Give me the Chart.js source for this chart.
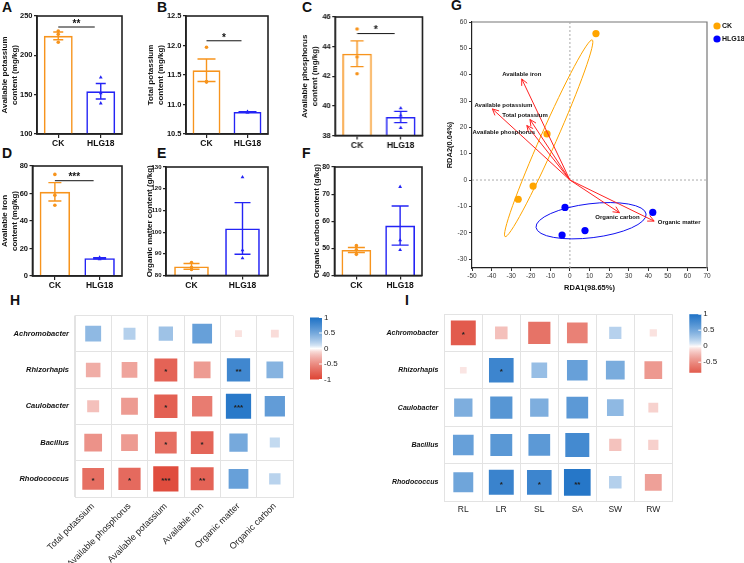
<!DOCTYPE html>
<html>
<head>
<meta charset="utf-8">
<script src="https://cdn.jsdelivr.net/npm/chart.js@4"></script>
<style>
  html, body { margin: 0; padding: 0; background: #fff; }
  body { width: 744px; height: 563px; position: relative; overflow: hidden; font-family: "Liberation Sans", Arial, sans-serif; }
  .box { position: absolute; }
  .tag { position: absolute; font-weight: bold; font-size: 14px; line-height: 14px; color: #111; }
</style>
</head>
<body>
<div class="tag" style="left:2px;top:0px">A</div>
<div class="tag" style="left:157px;top:0px">B</div>
<div class="tag" style="left:302px;top:0px">C</div>
<div class="tag" style="left:2px;top:146px">D</div>
<div class="tag" style="left:157px;top:146px">E</div>
<div class="tag" style="left:302px;top:146px">F</div>
<div class="tag" style="left:451px;top:-2px">G</div>
<div class="tag" style="left:10px;top:293px">H</div>
<div class="tag" style="left:405px;top:293px">I</div>
<script>
// ---- data ----
const groups = ["CK", "HLG18"];

// A: available potassium (mg/kg)
const availKMean = [224.8, 154.3];
const availKSem = [4.9, 9.8];
const availKCK = [231, 226.8, 216.7];
const availKHLG = [172, 152, 139];

// B: total potassium (mg/kg)
const totalKMean = [11.58, 10.873];
const totalKSem = [0.19, 0.004];
const totalKCK = [11.97, 11.39, 11.38];
const totalKHLG = [10.868, 10.872, 10.879];

// C: available phosphorus (mg/kg)
const availPMean = [43.52, 39.25];
const availPSem = [0.87, 0.38];
const availPCK = [45.19, 43.3, 42.17];
const availPHLG = [39.84, 39.36, 38.52];

// D: available iron (mg/kg)
const availFeMean = [61.2, 12.9];
const availFeSem = [6.7, 0.35];
const availFeCK = [73.9, 58.8, 51.5];
const availFeHLG = [13.5, 12.8, 12.3];

// E: organic matter (g/kg)
const omMean = [84.2, 101.7];
const omSem = [1.3, 11.9];
const omCK = [86.0, 83.8, 82.8];
const omHLG = [125.3, 91.7, 88];

// F: organic carbon (g/kg)
const ocMean = [49.4, 58.4];
const ocSem = [0.9, 7.2];
const ocCK = [51, 49.5, 47.8];
const ocHLG = [72.7, 53, 49.4];

// G: RDA
const ckRda1 = [13.3, -11.7, -18.8, -26.4];
const ckRda2 = [55.6, 17.5, -2.3, -7.3];
const hlgRda1 = [-2.5, -4.0, 7.7, 42.3];
const hlgRda2 = [-10.4, -20.9, -19.2, -12.3];
const envNames = ["Available iron", "Available potassium", "Total potassium", "Available phosphorus", "Organic carbon", "Organic matter"];
const envRda1 = [-24.6, -39.6, -20.4, -22, 25.3, 43];
const envRda2 = [38.4, 27, 23, 20.7, -12.4, -15.6];

// H / I: correlations
const taxa = ["Achromobacter", "Rhizorhapis", "Caulobacter", "Bacillus", "Rhodococcus"];
const soilVars = ["Total potassium", "Available phosphorus", "Available potassium", "Available iron", "Organic matter", "Organic carbon"];
const soilCorr = [
  [0.37, 0.21, 0.30, 0.57, -0.07, -0.09],
  [-0.31, -0.36, -0.77, -0.41, 0.79, 0.41],
  [-0.21, -0.41, -0.79, -0.60, 0.93, 0.60],
  [-0.46, -0.41, -0.69, -0.75, 0.49, 0.15],
  [-0.69, -0.72, -0.93, -0.77, 0.57, 0.19]
];
const soilSig = [
  ["", "", "", "", "", ""],
  ["", "", "*", "", "**", ""],
  ["", "", "*", "", "***", ""],
  ["", "", "*", "*", "", ""],
  ["*", "*", "***", "**", "", ""]
];
const traits = ["RL", "LR", "SL", "SA", "SW", "RW"];
const traitCorr = [
  [-0.83, -0.21, -0.66, -0.57, 0.20, -0.07],
  [-0.06, 0.81, 0.33, 0.57, 0.47, -0.42],
  [0.45, 0.66, 0.45, 0.63, 0.37, -0.13],
  [0.57, 0.64, 0.63, 0.77, -0.20, -0.14],
  [0.53, 0.83, 0.81, 0.95, 0.21, -0.38]
];
const traitSig = [
  ["*", "", "", "", "", ""],
  ["", "*", "", "", "", ""],
  ["", "", "", "", "", ""],
  ["", "", "", "", "", ""],
  ["", "*", "*", "**", "", ""]
];

// ---- styles ----
const ORANGE = "#F7941D";
const BLUE = "#2424F5";
const FONT = '"Liberation Sans", Arial, sans-serif';

Chart.defaults.font.family = FONT;
Chart.defaults.color = "#222";
Chart.defaults.animation = false;
Chart.defaults.events = [];
Chart.defaults.plugins.legend.display = false;
Chart.defaults.plugins.tooltip.enabled = false;

function addCanvas(left, top, width, height) {
  const div = document.createElement("div");
  div.className = "box";
  div.style.left = left + "px";
  div.style.top = top + "px";
  div.style.width = width + "px";
  div.style.height = height + "px";
  const cv = document.createElement("canvas");
  div.appendChild(cv);
  document.body.appendChild(div);
  return cv;
}

// ---- bar panels A-F ----
const barPanels = [
  { cl: 0, pl: 37, pt: 16, pr: 122, pb: 134, min: 100, max: 250, step: 50, dec: 0, cap: 10, tickFont: 7.5,
    title: ["Available potassium", "content (mg/kg)"], mean: availKMean, sem: availKSem, ck: availKCK, hlg: availKHLG, sig: "**", sigY: 236 },
  { cl: 146, pl: 186, pt: 16, pr: 268, pb: 134, min: 10.5, max: 12.5, step: 0.5, dec: 1, cap: 18, tickFont: 7.5,
    title: ["Total potassium", "content (mg/kg)"], mean: totalKMean, sem: totalKSem, ck: totalKCK, hlg: totalKHLG, sig: "*", sigY: 12.08 },
  { cl: 300, pl: 335, pt: 16.5, pr: 421.5, pb: 135, min: 38, max: 46, step: 2, dec: 0, cap: 13, tickFont: 7.5,
    title: ["Available phosphorus", "content (mg/kg)"], mean: availPMean, sem: availPSem, ck: availPCK, hlg: availPHLG, sig: "*", sigY: 44.88 },
  { cl: 0, pl: 32.5, pt: 166, pr: 122, pb: 276, min: 0, max: 80, step: 20, dec: 0, cap: 13, tickFont: 7.5,
    title: ["Available iron", "content (mg/kg)"], mean: availFeMean, sem: availFeSem, ck: availFeCK, hlg: availFeHLG, sig: "***", sigY: 69.3 },
  { cl: 145, pl: 166, pt: 166.5, pr: 268, pb: 275, min: 80, max: 130, step: 10, dec: 0, cap: 16, tickFont: 6,
    title: "Organic matter content (g/kg)", mean: omMean, sem: omSem, ck: omCK, hlg: omHLG, sig: "", sigY: 0 },
  { cl: 312, pl: 334.5, pt: 166.5, pr: 422, pb: 275, min: 40, max: 80, step: 10, dec: 0, cap: 17, tickFont: 7,
    title: "Organic carbon content (g/kg)", mean: ocMean, sem: ocSem, ck: ocCK, hlg: ocHLG, sig: "", sigY: 0 }
];

barPanels.forEach(p => {
  const top = p.pt - 8;
  const cv = addCanvas(p.cl, top, p.pr + 8 - p.cl, p.pb + 22 - top);
  const pts = (arr, g) => arr.map(v => ({ x: g, y: v }));
  new Chart(cv, {
    type: "bar",
    data: {
      labels: groups,
      datasets: [
        { data: p.mean, backgroundColor: "rgba(255,255,255,0)", borderColor: [ORANGE, BLUE], borderWidth: 1.6,
          barPercentage: 0.68, categoryPercentage: 1, borderSkipped: "bottom" },
        { type: "scatter", data: pts(p.ck, "CK"), pointStyle: "circle", pointRadius: 1.8, backgroundColor: ORANGE, borderWidth: 0 },
        { type: "scatter", data: pts(p.hlg, "HLG18"), pointStyle: "triangle", pointRadius: 2.2, backgroundColor: BLUE, borderWidth: 0 }
      ]
    },
    options: {
      responsive: true,
      maintainAspectRatio: false,
      layout: { autoPadding: false, padding: { top: 8, right: 8, left: 0, bottom: 0 } },
      scales: {
        x: {
          offset: true,
          grid: { drawOnChartArea: false, offset: false, tickLength: 4, color: "#222", lineWidth: 1.2 },
          border: { color: "#222", width: 1.6 },
          ticks: { color: "#111", font: { size: 8.5, weight: "bold" }, padding: 1 },
          afterFit: s => { s.height = 22; }
        },
        y: {
          min: p.min, max: p.max,
          grid: { drawOnChartArea: false, tickLength: 3, color: "#222", lineWidth: 1.2 },
          border: { color: "#222", width: 1.6 },
          ticks: { stepSize: p.step, color: "#111", font: { size: p.tickFont, weight: "bold" }, padding: 1.5,
                   callback: v => v.toFixed(p.dec) },
          title: { display: true, text: p.title, color: "#111", font: { size: 8, weight: "bold" }, padding: { top: 0, bottom: 0 } },
          afterFit: s => { s.width = p.pl - p.cl; }
        }
      }
    },
    plugins: [{
      id: "errorBars",
      afterDatasetsDraw(chart) {
        const { ctx, chartArea: a } = chart;
        const x = chart.scales.x, y = chart.scales.y;
        ctx.save();
        p.mean.forEach((m, i) => {
          const cx = x.getPixelForValue(i);
          const y1 = y.getPixelForValue(m + p.sem[i]);
          const y0 = y.getPixelForValue(m - p.sem[i]);
          ctx.strokeStyle = i === 0 ? ORANGE : BLUE;
          ctx.lineWidth = 1.4;
          ctx.beginPath();
          ctx.moveTo(cx, y0); ctx.lineTo(cx, y1);
          ctx.moveTo(cx - p.cap / 2, y1); ctx.lineTo(cx + p.cap / 2, y1);
          ctx.moveTo(cx - p.cap / 2, y0); ctx.lineTo(cx + p.cap / 2, y0);
          ctx.stroke();
        });
        ctx.strokeStyle = "#222";
        ctx.lineWidth = 1.6;
        ctx.strokeRect(a.left, a.top, a.right - a.left, a.bottom - a.top);
        if (p.sig) {
          const sy = y.getPixelForValue(p.sigY);
          const x0 = x.getPixelForValue(0), x1 = x.getPixelForValue(1) - 6;
          ctx.strokeStyle = "#111";
          ctx.lineWidth = 1;
          ctx.beginPath();
          ctx.moveTo(x0, sy); ctx.lineTo(x1, sy);
          ctx.stroke();
          ctx.fillStyle = "#111";
          ctx.font = "bold 10px " + FONT;
          ctx.textAlign = "center";
          ctx.textBaseline = "bottom";
          ctx.fillText(p.sig, (x0 + x1) / 2, sy + 2);
        }
        ctx.restore();
      }
    }]
  });
});

// ---- G: RDA biplot ----
const groupEllipses = [
  { cx: -10.85, cy: 15.85, ex: 11.4, ey: 53.2, minorPx: 8, color: "#FFA500" },
  { cx: 10.8, cy: -15.45, ex: 38.9, ey: -12.9, minorPx: 17, color: "#1010F0" }
];
const envLabelOffset = [[0, -5], [11, -4], [-5, -4], [-23, 7], [-2, 5], [25, 1]];

const cvG = addCanvas(445, 12, 299, 280);
new Chart(cvG, {
  type: "scatter",
  data: {
    datasets: [
      { data: ckRda1.map((v, i) => ({ x: v, y: ckRda2[i] })), backgroundColor: "#FFA500", pointRadius: 3.6, borderWidth: 0 },
      { data: hlgRda1.map((v, i) => ({ x: v, y: hlgRda2[i] })), backgroundColor: "#0000FF", pointRadius: 3.6, borderWidth: 0 }
    ]
  },
  options: {
    responsive: true,
    maintainAspectRatio: false,
    layout: { autoPadding: false, padding: { top: 10, right: 37, left: 0, bottom: 0 } },
    scales: {
      x: {
        min: -50, max: 70,
        grid: { drawOnChartArea: false, tickLength: 3, color: "#333" },
        border: { color: "#222", width: 1.2 },
        ticks: { stepSize: 10, includeBounds: false, color: "#333", font: { size: 6.5 }, padding: 1, maxRotation: 0 },
        title: { display: true, text: "RDA1(98.65%)", color: "#111", font: { size: 7.5, weight: "bold" }, padding: { top: 0, bottom: 0 } },
        afterFit: s => { s.height = 24; }
      },
      y: {
        min: -33.4, max: 60,
        grid: { drawOnChartArea: false, tickLength: 3, color: "#333" },
        border: { color: "#222", width: 1.2 },
        ticks: { stepSize: 10, includeBounds: false, color: "#333", font: { size: 6.5 }, padding: 2 },
        title: { display: true, text: "RDA2(0.04%)", color: "#111", font: { size: 7.5, weight: "bold" }, padding: { top: 0, bottom: 0 } },
        afterFit: s => { s.width = 27; }
      }
    }
  },
  plugins: [{
    id: "rdaExtras",
    beforeDatasetsDraw(chart) {
      const { ctx, chartArea: a } = chart;
      const x = chart.scales.x, y = chart.scales.y;
      ctx.save();
      ctx.strokeStyle = "#777";
      ctx.lineWidth = 1.2;
      ctx.beginPath();
      ctx.moveTo(a.left, a.top); ctx.lineTo(a.right, a.top); ctx.lineTo(a.right, a.bottom);
      ctx.stroke();
      ctx.strokeStyle = "#aaa";
      ctx.lineWidth = 1;
      ctx.setLineDash([2, 2]);
      ctx.beginPath();
      ctx.moveTo(x.getPixelForValue(0), a.top); ctx.lineTo(x.getPixelForValue(0), a.bottom);
      ctx.moveTo(a.left, y.getPixelForValue(0)); ctx.lineTo(a.right, y.getPixelForValue(0));
      ctx.stroke();
      ctx.setLineDash([]);
      groupEllipses.forEach(e => {
        const cx = x.getPixelForValue(e.cx), cy = y.getPixelForValue(e.cy);
        const ex = x.getPixelForValue(e.ex), ey = y.getPixelForValue(e.ey);
        const major = Math.hypot(ex - cx, ey - cy);
        ctx.strokeStyle = e.color;
        ctx.lineWidth = 1;
        ctx.beginPath();
        ctx.ellipse(cx, cy, major, e.minorPx, Math.atan2(ey - cy, ex - cx), 0, Math.PI * 2);
        ctx.stroke();
      });
      ctx.restore();
    },
    afterDatasetsDraw(chart) {
      const { ctx, chartArea: a } = chart;
      const x = chart.scales.x, y = chart.scales.y;
      const ox = x.getPixelForValue(0), oy = y.getPixelForValue(0);
      ctx.save();
      envNames.forEach((name, i) => {
        const tx = x.getPixelForValue(envRda1[i]), ty = y.getPixelForValue(envRda2[i]);
        const ang = Math.atan2(ty - oy, tx - ox);
        ctx.strokeStyle = "#FF2222";
        ctx.lineWidth = 1;
        ctx.beginPath();
        ctx.moveTo(ox, oy); ctx.lineTo(tx, ty);
        ctx.moveTo(tx - 7 * Math.cos(ang - 0.45), ty - 7 * Math.sin(ang - 0.45));
        ctx.lineTo(tx, ty);
        ctx.lineTo(tx - 7 * Math.cos(ang + 0.45), ty - 7 * Math.sin(ang + 0.45));
        ctx.stroke();
        ctx.fillStyle = "#111";
        ctx.font = "bold 6px " + FONT;
        ctx.textAlign = "center";
        ctx.textBaseline = "middle";
        ctx.fillText(name, tx + envLabelOffset[i][0], ty + envLabelOffset[i][1]);
      });
      // legend
      [["CK", "#FFA500"], ["HLG18", "#0000FF"]].forEach((item, i) => {
        const lx = a.right + 10, ly = a.top + 4 + i * 13;
        ctx.fillStyle = item[1];
        ctx.beginPath();
        ctx.arc(lx, ly, 3.6, 0, Math.PI * 2);
        ctx.fill();
        ctx.fillStyle = "#111";
        ctx.font = "bold 7px " + FONT;
        ctx.textAlign = "left";
        ctx.textBaseline = "middle";
        ctx.fillText(item[0], lx + 5, ly);
      });
      ctx.restore();
    }
  }]
});

// ---- H / I: correlation heatmaps ----
function corrColor(v) {
  const t = Math.pow(Math.min(1, Math.abs(v)), 0.7);
  const end = v >= 0 ? [30, 114, 198] : [222, 68, 52];
  const c = end.map(e => Math.round(255 + (e - 255) * t));
  return "rgb(" + c.join(",") + ")";
}

function makeHeat(h) {
  const cv = addCanvas(h.left, h.top, h.width, h.height);
  const pts = [];
  taxa.forEach((t, r) => h.cols.forEach((c, k) => pts.push({ x: c, y: t, v: h.corr[r][k], s: h.sig[r][k] })));
  const cellW = (h.width - h.yWidth - h.padRight) / h.cols.length;
  new Chart(cv, {
    type: "scatter",
    data: {
      datasets: [{
        data: pts,
        pointStyle: "rect",
        borderWidth: 0,
        pointRadius: c => 0.72 * cellW * Math.sqrt(Math.abs(c.raw ? c.raw.v : 0)) / Math.SQRT2,
        backgroundColor: c => corrColor(c.raw ? c.raw.v : 0)
      }]
    },
    options: {
      responsive: true,
      maintainAspectRatio: false,
      layout: { autoPadding: false, padding: { top: h.padTop, right: h.padRight, left: 0, bottom: 0 } },
      scales: {
        x: {
          type: "category", labels: h.cols, offset: true,
          grid: { offset: true, color: "#e3e3e3", drawTicks: false },
          border: { color: "#e3e3e3" },
          ticks: { color: "#222", font: { size: h.xFont }, padding: 4, minRotation: h.rot, maxRotation: h.rot, autoSkip: false },
          afterFit: s => { s.height = h.xHeight; }
        },
        y: {
          type: "category", labels: taxa, offset: true,
          grid: { offset: true, color: "#e3e3e3", drawTicks: false },
          border: { color: "#e3e3e3" },
          ticks: { color: "#111", font: { size: h.yFont, weight: "bold", style: "italic" }, padding: 6 },
          afterFit: s => { s.width = h.yWidth; }
        }
      }
    },
    plugins: [{
      id: "heatExtras",
      afterDatasetsDraw(chart) {
        const { ctx, chartArea: a } = chart;
        const x = chart.scales.x, y = chart.scales.y;
        ctx.save();
        ctx.fillStyle = "#222";
        ctx.font = "bold 8px " + FONT;
        ctx.textAlign = "center";
        ctx.textBaseline = "middle";
        pts.forEach(p => {
          if (p.s) ctx.fillText(p.s, x.getPixelForValue(h.cols.indexOf(p.x)), y.getPixelForValue(taxa.indexOf(p.y)) + 2);
        });
        // colour bar
        const bx = a.right + 17, bw = 12, unit = h.barUnit;
        const by = a.top + h.barOffset, bh = (1 - h.barMin) * unit;
        const g = ctx.createLinearGradient(0, by, 0, by + bh);
        const steps = 20;
        for (let k = 0; k <= steps; k++) {
          const v = 1 - (1 - h.barMin) * k / steps;
          g.addColorStop(k / steps, corrColor(v));
        }
        ctx.fillStyle = g;
        ctx.fillRect(bx, by, bw, bh);
        ctx.fillStyle = "#222";
        ctx.font = "8px " + FONT;
        ctx.textAlign = "left";
        h.barTicks.forEach(v => {
          const ty = by + (1 - v) * unit;
          ctx.strokeStyle = "#fff";
          ctx.lineWidth = 1;
          ctx.beginPath();
          ctx.moveTo(bx + bw - 3, ty); ctx.lineTo(bx + bw, ty);
          ctx.stroke();
          ctx.fillText(String(v), bx + bw + 2, ty);
        });
        ctx.restore();
      }
    }]
  });
}

makeHeat({ left: 0, top: 305, width: 360, height: 258, padTop: 10, padRight: 67, yWidth: 75, xHeight: 66,
  cols: soilVars, corr: soilCorr, sig: soilSig, rot: 45, xFont: 9, yFont: 7.5,
  barMin: -1, barUnit: 31, barOffset: 2, barTicks: [1, 0.5, 0, -0.5, -1] });

makeHeat({ left: 380, top: 304, width: 364, height: 259, padTop: 6.7, padRight: 71.7, yWidth: 64.3, xHeight: 62,
  cols: traits, corr: traitCorr, sig: traitSig, rot: 0, xFont: 8.5, yFont: 7,
  barMin: -0.83, barUnit: 32, barOffset: 0, barTicks: [1, 0.5, 0, -0.5] });
</script>
</body>
</html>
